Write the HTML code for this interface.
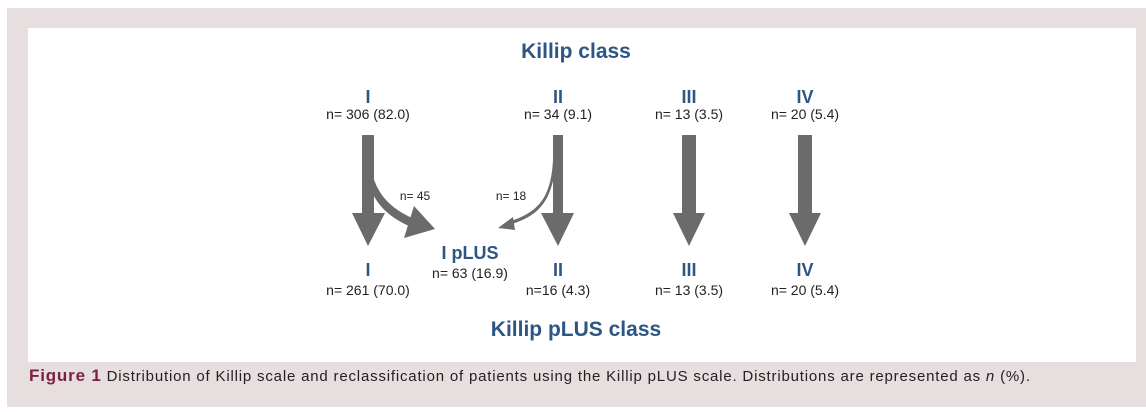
<!DOCTYPE html>
<html><head><meta charset="utf-8"><style>
body{margin:0;width:1146px;height:407px;background:#fff;overflow:hidden;font-family:"Liberation Sans",sans-serif}
</style></head><body>
<svg width="1146" height="407" viewBox="0 0 1146 407" xmlns="http://www.w3.org/2000/svg">
<rect x="7" y="8" width="1139" height="399" fill="#e6dedf"/>
<rect x="28" y="28" width="1108" height="334" fill="#fff"/>
<g fill="#6b6b6b">
<rect x="362" y="135" width="12" height="80"/><polygon points="352,213 385,213 368,246"/>
<rect x="553" y="135" width="10" height="80"/><polygon points="541,213 574,213 558,246"/>
<rect x="682" y="135" width="14" height="80"/><polygon points="673,213 705,213 689,246"/>
<rect x="798" y="135" width="14" height="80"/><polygon points="789,213 821,213 805,246"/>
<path d="M368,150 C372,190 385,205 412,218 L409,226 C378,212 366,192 362,150 Z"/>
<polygon points="435,229 404,238 414,206"/>
<path d="M556,160 C553,200 540,215 512,224 L511,221 C538,212 551,198 553,160 Z"/>
<polygon points="498,228 513,217 515,230"/>
</g>
<g fill="#2e5685" font-weight="bold" text-anchor="middle">
<text x="576" y="58" font-size="21">Killip class</text>
<text x="368" y="103" font-size="18">I</text>
<text x="558" y="103" font-size="18">II</text>
<text x="689" y="103" font-size="18">III</text>
<text x="805" y="103" font-size="18">IV</text>
<text x="368" y="276" font-size="18">I</text>
<text x="558" y="276" font-size="18">II</text>
<text x="689" y="276" font-size="18">III</text>
<text x="805" y="276" font-size="18">IV</text>
<text x="470" y="259" font-size="18">I pLUS</text>
<text x="576" y="336" font-size="21">Killip pLUS class</text>
</g>
<g fill="#222" font-size="14" text-anchor="middle">
<text x="368" y="119">n= 306 (82.0)</text>
<text x="558" y="119">n= 34 (9.1)</text>
<text x="689" y="119">n= 13 (3.5)</text>
<text x="805" y="119">n= 20 (5.4)</text>
<text x="368" y="295">n= 261 (70.0)</text>
<text x="558" y="295">n=16 (4.3)</text>
<text x="689" y="295">n= 13 (3.5)</text>
<text x="805" y="295">n= 20 (5.4)</text>
<text x="470" y="278">n= 63 (16.9)</text>
<text x="415" y="200" font-size="12">n= 45</text>
<text x="511" y="200" font-size="12">n= 18</text>
</g>
<text x="29" y="381" font-size="15" fill="#222" textLength="1001" lengthAdjust="spacing"><tspan fill="#7a2340" font-weight="bold" font-size="17">Figure 1</tspan>  Distribution of Killip scale and reclassification of patients using the Killip pLUS scale. Distributions are represented as <tspan font-style="italic">n</tspan> (%).</text>
</svg>
</body></html>
